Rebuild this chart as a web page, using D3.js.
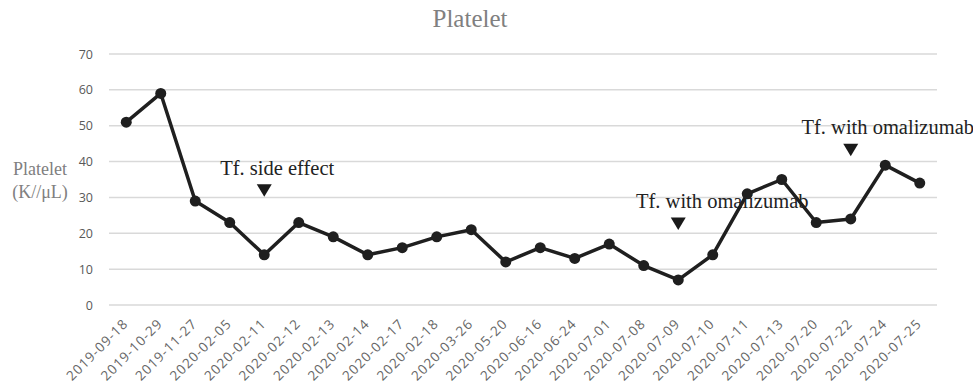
<!DOCTYPE html>
<html>
<head>
<meta charset="utf-8">
<script src="https://cdn.jsdelivr.net/npm/d3@7"></script>
<style>
  body { margin: 0; background: #fff; }
</style>
</head>
<body>
<div id="chart"></div>
<script>
const dates = ["2019-09-18", "2019-10-29", "2019-11-27", "2020-02-05", "2020-02-11", "2020-02-12",
    "2020-02-13", "2020-02-14", "2020-02-17", "2020-02-18", "2020-03-26", "2020-05-20",
    "2020-06-16", "2020-06-24", "2020-07-01", "2020-07-08", "2020-07-09", "2020-07-10",
    "2020-07-11", "2020-07-13", "2020-07-20", "2020-07-22", "2020-07-24", "2020-07-25"];
const platelet = [51, 59, 29, 23, 14, 23, 19, 14, 16, 19, 21, 12, 16, 13, 17, 11, 7, 14, 31, 35, 23, 24, 39, 34];
const yTicks = [0, 10, 20, 30, 40, 50, 60, 70];

// annotations: date, level of the marker tip, label
const noteDates = ["2020-02-11", "2020-07-09", "2020-07-22"];
const noteLevels = [30.2, 20.9, 41.5];
const noteTexts = ["Tf. side effect", "Tf. with omalizumab", "Tf. with omalizumab"];
const noteOffsets = [13, 44, 37];

const width = 973, height = 384;
const margin = { left: 109, right: 36, top: 54, bottom: 79 };

const svg = d3.select("#chart").append("svg")
    .attr("width", width)
    .attr("height", height)
    .attr("viewBox", [0, 0, width, height]);

const x = d3.scaleBand(dates, [margin.left, width - margin.right]);
const y = d3.scaleLinear([0, 70], [height - margin.bottom, margin.top]);
const cx = d => x(d) + x.bandwidth() / 2;

// gridlines
svg.append("g")
    .selectAll("line")
    .data(yTicks)
    .join("line")
    .attr("x1", margin.left)
    .attr("x2", width - margin.right)
    .attr("y1", d => y(d))
    .attr("y2", d => y(d))
    .attr("stroke", "#d9d9d9")
    .attr("stroke-width", 1.5);

// y axis labels
svg.append("g")
    .attr("transform", `translate(${margin.left - 16}, 0)`)
    .call(d3.axisLeft(y).tickValues(yTicks).tickSize(0).tickPadding(0))
    .call(g => g.select(".domain").remove())
    .call(g => g.selectAll("text")
        .attr("fill", "#595959")
        .attr("font-family", "Open Sans, sans-serif")
        .attr("font-size", 12.5));

// x axis labels
svg.append("g")
    .attr("transform", `translate(0, ${height - margin.bottom + 13})`)
    .call(d3.axisBottom(x).tickSize(0).tickPadding(0))
    .call(g => g.select(".domain").remove())
    .call(g => g.selectAll("text")
        .attr("fill", "#666")
        .attr("font-family", "Open Sans, sans-serif")
        .attr("font-size", 13.5)
        .attr("letter-spacing", 1)
        .attr("text-anchor", "end")
        .attr("dy", "0.7em")
        .attr("transform", "translate(-4,0) rotate(-45)"));

// title
svg.append("text")
    .attr("x", 470)
    .attr("y", 27)
    .attr("text-anchor", "middle")
    .attr("font-family", "Liberation Serif, serif")
    .attr("font-size", 25)
    .attr("fill", "#808080")
    .text("Platelet");

// y axis title
const yt = svg.append("text")
    .attr("text-anchor", "middle")
    .attr("font-family", "Liberation Serif, serif")
    .attr("font-size", 18)
    .attr("fill", "#808080");
yt.append("tspan").attr("x", 40).attr("y", 175).text("Platelet");
yt.append("tspan").attr("x", 40).attr("y", 198).text("(K//μL)");

// annotations
const notes = noteDates.map((d, i) => ({ date: d, level: noteLevels[i], text: noteTexts[i], dx: noteOffsets[i] }));

svg.append("g")
    .selectAll("path")
    .data(notes)
    .join("path")
    .attr("d", d => {
        const px = cx(d.date), py = y(d.level);
        return `M${px - 7.5},${py - 12.5}L${px + 7.5},${py - 12.5}L${px},${py}Z`;
    })
    .attr("fill", "#1a1a1a");

svg.append("g")
    .selectAll("text")
    .data(notes)
    .join("text")
    .attr("x", d => cx(d.date) + d.dx)
    .attr("y", d => y(d.level) - 22)
    .attr("text-anchor", "middle")
    .attr("font-family", "Liberation Serif, serif")
    .attr("font-size", 20.5)
    .attr("fill", "#222")
    .text(d => d.text);

// line + markers
const series = dates.map((d, i) => ({ date: d, value: platelet[i] }));

const lineGen = d3.line()
    .x(d => cx(d.date))
    .y(d => y(d.value));

svg.append("path")
    .attr("fill", "none")
    .attr("stroke", "#1f1f1f")
    .attr("stroke-width", 3.5)
    .attr("stroke-linejoin", "round")
    .attr("d", lineGen(series));

svg.append("g")
    .selectAll("circle")
    .data(series)
    .join("circle")
    .attr("cx", d => cx(d.date))
    .attr("cy", d => y(d.value))
    .attr("r", 5.5)
    .attr("fill", "#1f1f1f");
</script>
</body>
</html>
